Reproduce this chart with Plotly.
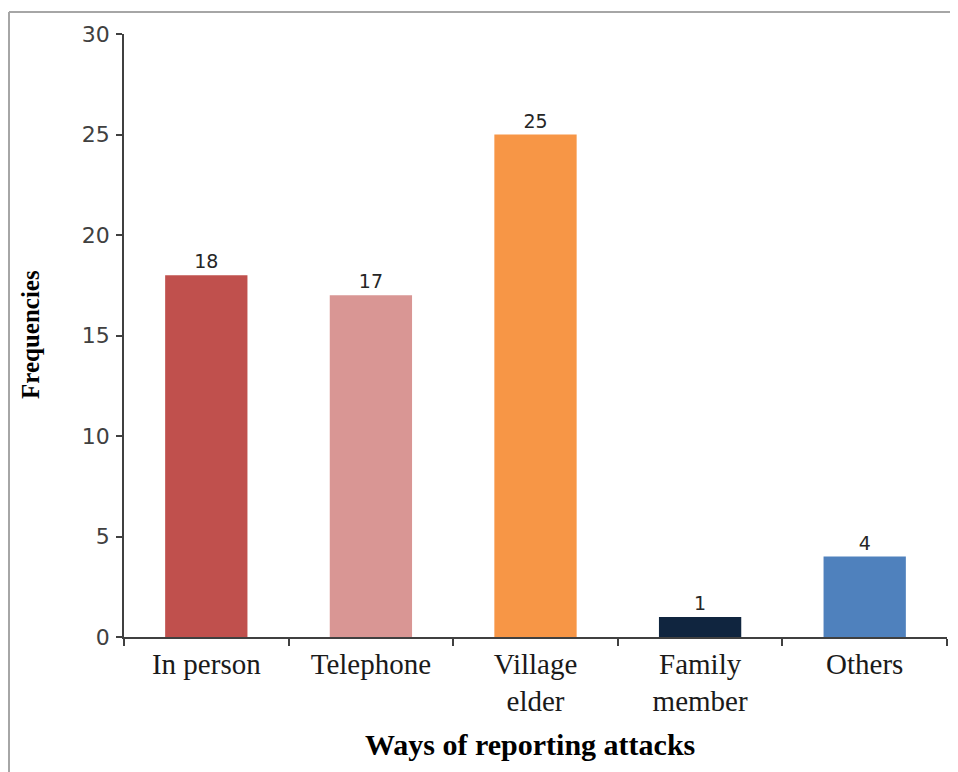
import plotly.graph_objects as go

categories = ["In person", "Telephone", "Village<br>elder", "Family<br>member", "Others"]
frequencies = [18, 17, 25, 1, 4]
bar_colors = ["#C0504D", "#D99694", "#F79646", "#10253F", "#4F81BD"]
y_ticks = [0, 5, 10, 15, 20, 25, 30]

# The page body adds an 8px offset, so work in figure pixels = reference pixels - 8
OFF = 8
W, H = 958 - OFF, 772 - OFF
L, R, T, B = 124 - OFF, 11, 34 - OFF, 135
pw, ph = W - L - R, H - T - B


def px_x(x):
    return (x - OFF - L) / pw


def px_y(y):
    return 1 - (y - OFF - T) / ph


fig = go.Figure(go.Bar(
    x=categories, y=frequencies,
    marker=dict(color=bar_colors, line=dict(width=0)),
    text=[str(v) for v in frequencies], textposition="outside",
    textfont=dict(family="DejaVu Sans", size=19, color="#262626"),
    cliponaxis=False, width=0.5,
))

fig.update_layout(
    width=W, height=H,
    margin=dict(l=L, r=R, t=T, b=B, autoexpand=False),
    paper_bgcolor="white", plot_bgcolor="white",
    showlegend=False,
    xaxis=dict(
        showline=True, linecolor="#404040", linewidth=1.5,
        ticks="outside", tickson="boundaries", ticklen=7, tickcolor="#404040", tickwidth=1.5,
        tickfont=dict(family="Liberation Serif", size=29, color="#1a1a1a"),
        showgrid=False, zeroline=False,
    ),
    yaxis=dict(
        range=[0, 30], tickvals=y_ticks,
        showline=True, linecolor="#404040", linewidth=1.5,
        ticks="outside", ticklen=6, tickcolor="#404040", tickwidth=1.5,
        tickfont=dict(family="DejaVu Sans", size=22, color="#404040"),
        ticklabelstandoff=2,
        showgrid=False, zeroline=False,
    ),
    annotations=[
        dict(text="<b>Frequencies</b>", xref="paper", yref="paper",
             x=px_x(30), y=px_y(335), textangle=-90, showarrow=False,
             xanchor="center", yanchor="middle",
             font=dict(family="Liberation Serif", size=25, color="black")),
        dict(text="<b>Ways of reporting attacks</b>", xref="paper", yref="paper",
             x=px_x(530), y=px_y(744), showarrow=False,
             xanchor="center", yanchor="middle",
             font=dict(family="Liberation Serif", size=30, color="black")),
    ],
    shapes=[
        dict(type="line", xref="paper", yref="paper",
             x0=px_x(9), x1=px_x(9), y0=px_y(12), y1=px_y(780),
             line=dict(color="#A6A6A6", width=2)),
        dict(type="line", xref="paper", yref="paper",
             x0=px_x(9), x1=px_x(970), y0=px_y(12), y1=px_y(12),
             line=dict(color="#A6A6A6", width=2)),
    ],
)

fig.write_html("out.html")
